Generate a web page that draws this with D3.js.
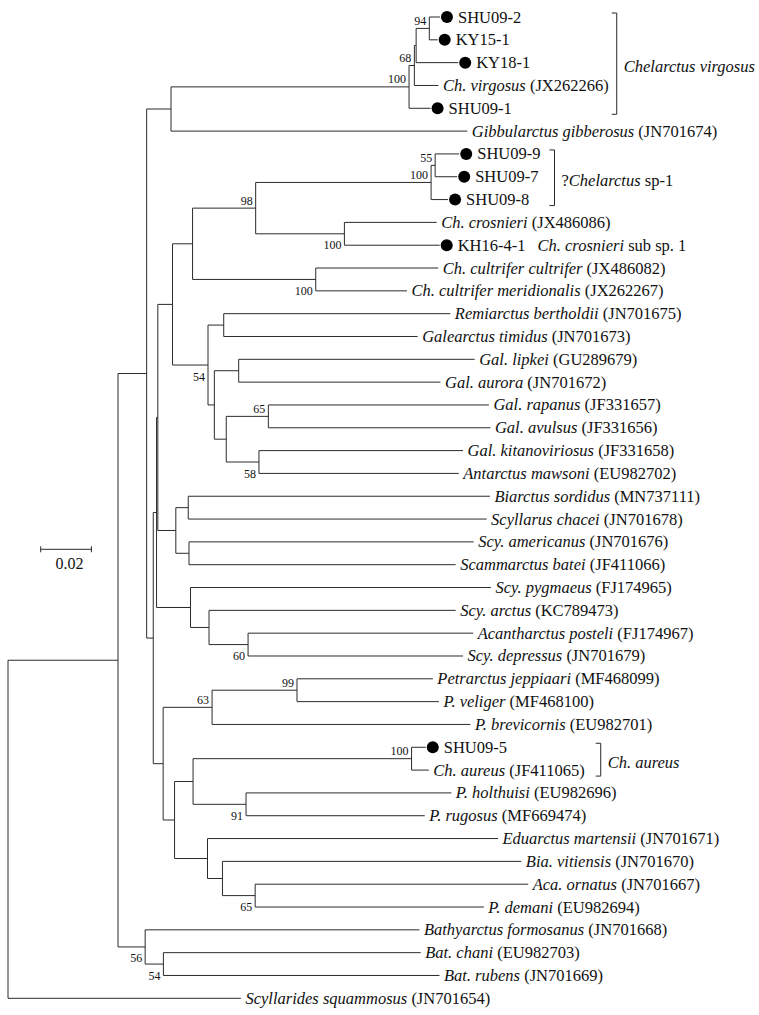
<!DOCTYPE html>
<html>
<head>
<meta charset="utf-8">
<script src="https://cdn.jsdelivr.net/npm/d3@7/dist/d3.min.js"></script>
<style>
  html, body { margin: 0; padding: 0; background: #fff; }
  svg { display: block; }
</style>
</head>
<body>
<svg id="chart" width="759" height="1015" font-family="'Liberation Serif', 'Times New Roman', Tinos, 'Nimbus Roman', 'DejaVu Serif', serif"></svg>
<script>
// ---------------- DATA ----------------
// Tip names (in drawing order t0..t43); samples from this study have no accession
const tipTaxa = ["SHU09-2","KY15-1","KY18-1","Ch. virgosus","SHU09-1","Gibbularctus gibberosus",
  "SHU09-9","SHU09-7","SHU09-8","Ch. crosnieri","KH16-4-1","Ch. cultrifer cultrifer",
  "Ch. cultrifer meridionalis","Remiarctus bertholdii","Galearctus timidus","Gal. lipkei",
  "Gal. aurora","Gal. rapanus","Gal. avulsus","Gal. kitanoviriosus","Antarctus mawsoni",
  "Biarctus sordidus","Scyllarus chacei","Scy. americanus","Scammarctus batei","Scy. pygmaeus",
  "Scy. arctus","Acantharctus posteli","Scy. depressus","Petrarctus jeppiaari","P. veliger",
  "P. brevicornis","SHU09-5","Ch. aureus","P. holthuisi","P. rugosus","Eduarctus martensii",
  "Bia. vitiensis","Aca. ornatus","P. demani","Bathyarctus formosanus","Bat. chani",
  "Bat. rubens","Scyllarides squammosus"];
const tipAccession = ["","","","JX262266","","JN701674","","","","JX486086","","JX486082",
  "JX262267","JN701675","JN701673","GU289679","JN701672","JF331657","JF331656","JF331658",
  "EU982702","MN737111","JN701678","JN701676","JF411066","FJ174965","KC789473","FJ174967",
  "JN701679","MF468099","MF468100","EU982701","","JF411065","EU982696","MF669474","JN701671",
  "JN701670","JN701667","EU982694","JN701668","EU982703","JN701669","JN701654"];

// Tree topology, branch lengths (substitutions/site) and bootstrap values, as Newick fragments
const nwVirgosus = "(((((t0:0.0042,t1:0.0033)94:0.0052,t2:0.0166):0.0007,t3:0.0095)68:0.0021,t4:0.0085)100:0.0939,t5:0.1169):0.0096";
const nwChelarctus = "((((t6:0.0095,t7:0.0087)55:0.0016,t8:0.0067)100:0.0692,(t9:0.0364,t10:0.0376)100:0.0350)98:0.0249,(t11:0.0483,t12:0.0360)100:0.0486):0.0079";
const nwGalearctus = "((t13:0.0894,t14:0.0765):0.0062,((t15:0.0931,t16:0.0796):0.0096,((t17:0.0870,t18:0.0876)65:0.0166,(t19:0.0805,t20:0.0788)58:0.0129):0.0047):0.0025)54:0.0140";
const nwBiarctus = "((t21:0.1190,t22:0.1177):0.0049,(t23:0.1123,t24:0.1052):0.0052):0.0071";
const nwScyllarus = "(t25:0.1185,(t26:0.0973,(t27:0.0888,t28:0.0848)60:0.0154):0.0073):0.0134";
const nwPetrarctus = "(((t29:0.0536,t30:0.0560)99:0.0335,t31:0.1019)63:0.0193,(((t32:0.0056,t33:0.0068)100:0.0862,(t34:0.0810,t35:0.0705)91:0.0209):0.0073,(t36:0.1146,(t37:0.1179,(t38:0.1077,t39:0.0902)65:0.0129):0.0059):0.0130):0.0045):0.0039";
const nwBathyarctus = "(t40:0.1082,(t41:0.1015,t42:0.1089)54:0.0072)56:0.0107";
const nwOutgroup = "t43:0.0919";

// Clade annotations (bracketed groups)
const cladeFirstTip = [0, 6, 32];
const cladeLastTip = [4, 8, 33];
const cladeLabelParts = [
  [["Chelarctus virgosus", true]],
  [["?", false], ["Chelarctus", true], [" sp-1", false]],
  [["Ch. aureus", true]]
];
// Un-bracketed note
const noteTip = 10;
const noteParts = [["Ch. crosnieri", true], [" sub sp. 1", false]];

// Scale bar
const scaleBarValue = 0.02;
const scaleBarLabel = "0.02";

// ---------------- BUILD ----------------
const treeNewick = "(((" + nwVirgosus + ",((((" + nwChelarctus + "," + nwGalearctus + "):0.0058," +
  nwBiarctus + "):0.0005," + nwScyllarus + "):0.0013," + nwPetrarctus + "):0.0026):0.0113," +
  nwBathyarctus + "):0.0434," + nwOutgroup + ");";

function parseNewick(s) {
  let i = 0;
  function node() {
    const n = { children: [] };
    if (s[i] === "(") {
      i++;
      n.children.push(node());
      while (s[i] === ",") { i++; n.children.push(node()); }
      i++; // ')'
    }
    let name = "";
    while (i < s.length && !":,();".includes(s[i])) name += s[i++];
    let len = 0;
    if (s[i] === ":") {
      i++;
      let num = "";
      while (i < s.length && !",();".includes(s[i])) num += s[i++];
      len = +num;
    }
    if (n.children.length) n.support = name ? +name : null;
    else { n.tip = +name.slice(1); delete n.children; }
    n.length = len;
    return n;
  }
  return node();
}

const root = d3.hierarchy(parseNewick(treeNewick));
root.each(d => { d.dist = d.parent ? d.parent.dist + d.data.length : 0; });
const leaves = root.leaves();

const svg = d3.select("#chart");

const x = d3.scaleLinear().domain([0, 0.1]).range([8, 8 + 253.5]);
const y = d3.scalePoint().domain(leaves.map(d => d.data.tip)).range([17, 998.3]);

leaves.forEach(d => { d.y = y(d.data.tip); });
root.eachAfter(d => {
  if (d.children) d.y = (d.children[0].y + d.children[d.children.length - 1].y) / 2;
});

const lineColor = "#2b2b2b";
const textColor = "#111";
const g = svg.append("g");

// horizontal branches
g.selectAll("line.h").data(root.descendants().filter(d => d.parent))
  .join("line").attr("class", "h")
  .attr("x1", d => x(d.parent.dist)).attr("x2", d => x(d.dist))
  .attr("y1", d => d.y).attr("y2", d => d.y)
  .attr("stroke", lineColor).attr("stroke-width", 1);

// vertical connectors
g.selectAll("line.v").data(root.descendants().filter(d => d.children))
  .join("line").attr("class", "v")
  .attr("x1", d => x(d.dist)).attr("x2", d => x(d.dist))
  .attr("y1", d => d.children[0].y).attr("y2", d => d.children[d.children.length - 1].y)
  .attr("stroke", lineColor).attr("stroke-width", 1);

// bootstrap values
g.selectAll("text.bs").data(root.descendants().filter(d => d.children && d.data.support != null))
  .join("text").attr("class", "bs")
  .attr("x", d => x(d.dist) - 3)
  .attr("y", d => (d.parent && d.parent.children[0] === d) ? d.y - 3.5 : d.y + 15.5)
  .attr("text-anchor", "end")
  .attr("font-size", 12).attr("fill", textColor)
  .text(d => d.data.support);

// sample markers
const isSample = d => tipAccession[d.data.tip] === "";
g.selectAll("circle.mk").data(leaves.filter(isSample))
  .join("circle").attr("class", "mk")
  .attr("cx", d => x(d.dist) + 7).attr("cy", d => d.y).attr("r", 6)
  .attr("fill", "#000");

// tip labels
const fs = 16.5;
const labels = g.selectAll("text.tip").data(leaves)
  .join("text").attr("class", "tip")
  .attr("x", d => x(d.dist) + (isSample(d) ? 18 : 4.5))
  .attr("y", d => d.y + 5.5)
  .attr("font-size", fs).attr("fill", textColor);
labels.each(function (d) {
  const t = d3.select(this);
  const acc = tipAccession[d.data.tip];
  if (acc === "") {
    t.append("tspan").text(tipTaxa[d.data.tip]);
  } else {
    t.append("tspan").attr("font-style", "italic").text(tipTaxa[d.data.tip]);
    t.append("tspan").text(" (" + acc + ")");
  }
});
const labelRight = {};
labels.each(function (d) { const b = this.getBBox(); labelRight[d.data.tip] = b.x + b.width; });

function appendParts(t, parts) {
  parts.forEach(([s, it]) => {
    const sp = t.append("tspan").text(s);
    if (it) sp.attr("font-style", "italic");
  });
}

// clade brackets
const bracketGap = [8, 14, 16];
cladeFirstTip.forEach((f, k) => {
  const l = cladeLastTip[k];
  let maxR = 0;
  for (let i = f; i <= l; i++) maxR = Math.max(maxR, labelRight[i]);
  const bx = maxR + bracketGap[k];
  const y0 = y(f) - 4, y1 = y(l) + 6;
  g.append("path")
    .attr("d", `M${bx - 5},${y0}H${bx}V${y1}H${bx - 5}`)
    .attr("fill", "none").attr("stroke", lineColor).attr("stroke-width", 1);
  const t = g.append("text").attr("x", bx + 7).attr("y", (y0 + y1) / 2 + 8.5)
    .attr("font-size", fs).attr("fill", textColor);
  appendParts(t, cladeLabelParts[k]);
});

// note beside KH16-4-1
{
  const t = g.append("text").attr("x", labelRight[noteTip] + 12).attr("y", y(noteTip) + 5.5)
    .attr("font-size", fs).attr("fill", textColor);
  appendParts(t, noteParts);
}

// scale bar
{
  const sx0 = 40.7, sy = 549.3;
  const sw = x(scaleBarValue) - x(0);
  const sb = g.append("g");
  sb.append("line").attr("x1", sx0).attr("x2", sx0 + sw).attr("y1", sy).attr("y2", sy)
    .attr("stroke", lineColor).attr("stroke-width", 1);
  [sx0, sx0 + sw].forEach(px => sb.append("line").attr("x1", px).attr("x2", px)
    .attr("y1", sy - 3).attr("y2", sy + 3).attr("stroke", lineColor).attr("stroke-width", 1));
  sb.append("text").attr("x", sx0 + sw / 2 + 3.5).attr("y", sy + 19.5)
    .attr("text-anchor", "middle").attr("font-size", 16).attr("fill", textColor).text(scaleBarLabel);
}
</script>
</body>
</html>
